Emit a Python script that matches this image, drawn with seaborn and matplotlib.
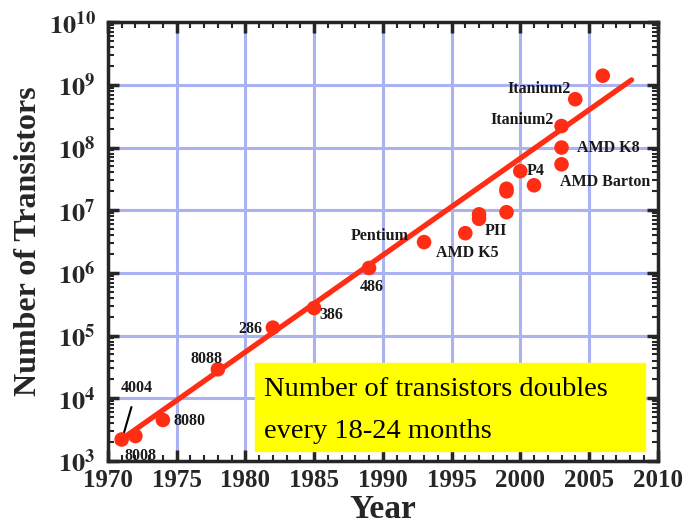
import numpy as np
import pandas as pd
import matplotlib
matplotlib.use("Agg")
import matplotlib.pyplot as plt
import matplotlib.ticker as mticker
import seaborn as sns

# Processor data
years = [1971, 1972, 1974, 1978, 1982, 1985, 1989, 1993,
         1996, 1997, 1997, 1999, 1999, 1999, 2000, 2001,
         2003, 2003, 2003, 2004, 2006]
transistors = [2.2e3, 2.5e3, 4.5e3, 2.9e4, 1.34e5, 2.75e5, 1.2e6, 3.1e6,
               4.3e6, 7.3e6, 8.6e6, 9.3e6, 2.0e7, 2.2e7, 4.2e7, 2.5e7,
               5.4e7, 1.0e8, 2.2e8, 5.9e8, 1.4e9]

# fitted trend line end points
trend_years = [1970.7, 2008.1]
trend_values = [2.0e3, 1.2e9]

# label text and where it sits (year, value)
labels = ["8008", "8080", "8088", "286", "386", "486", "Pentium", "AMD K5",
          "PII", "P4", "AMD Barton", "AMD K8", "Itanium2", "Itanium2"]
label_x = [1971.2, 1974.8, 1976.0, 1979.5, 1985.4, 1988.3, 1987.7, 1993.9,
           1997.4, 2000.5, 2002.9, 2004.1, 1997.8, 1999.1]
label_y = [1.2e3, 4.4e3, 4.3e4, 1.28e5, 2.15e5, 6.0e5, 3.9e6, 2.1e6,
           4.7e6, 4.3e7, 2.8e7, 1.0e8, 2.7e8, 8.5e8]

df = pd.DataFrame({"year": years, "n": transistors})
trend = pd.DataFrame({"year": trend_years, "n": trend_values})

sns.set_style("ticks")
plt.rcParams["font.family"] = ["Liberation Serif", "DejaVu Serif"]
plt.rcParams["mathtext.fontset"] = "stix"

red = "#ff2d14"
grid_c = "#aab2f2"
txt_c = "#1a1a1a"

fig = plt.figure(figsize=(6.83, 5.28), dpi=100)
ax = fig.add_axes([0.158, 0.127, 0.805, 0.831])

ax.set_yscale("log")
ax.set_xlim(1970, 2010)
ax.set_ylim(1e3, 1e10)

# grid
for x in range(1975, 2010, 5):
    ax.axvline(x, color=grid_c, lw=2.2, zorder=0)
for e in range(4, 10):
    ax.axhline(10 ** e, color=grid_c, lw=2.2, zorder=0)

sns.lineplot(data=trend, x="year", y="n", color=red, lw=3.8, ax=ax, zorder=3)
sns.scatterplot(data=df, x="year", y="n", color=red, s=110, edgecolor="none",
                ax=ax, zorder=4)

for t, lx, ly in zip(labels, label_x, label_y):
    ax.text(lx, ly, t, fontsize=11.5, fontweight="bold", color=txt_c,
            ha="left", va="center", zorder=5)

# 4004 with pointer line
ax.annotate("4004", xy=(1971.0, 2.1e3), xytext=(1970.9, 1.47e4),
            fontsize=11.5, fontweight="bold", color=txt_c, ha="left",
            va="center",
            arrowprops=dict(arrowstyle="-", color="black", lw=1.5,
                            shrinkA=6, shrinkB=0, relpos=(0.45, 0.0)))

# yellow note box
fig.patches.append(plt.Rectangle((255 / 683, 1 - 451 / 528), 390 / 683, 88 / 528,
                                 transform=fig.transFigure, color="#ffff00",
                                 zorder=6))
fig.text(264 / 683, 1 - 396 / 528, "Number of transistors doubles",
         fontsize=20.5, color="black", zorder=7, va="baseline")
fig.text(264 / 683, 1 - 438 / 528, "every 18-24 months",
         fontsize=20.5, color="black", zorder=7, va="baseline")

# ticks
ax.set_xticks(range(1970, 2011, 5))
ax.xaxis.set_minor_locator(mticker.MultipleLocator(1))
ax.set_yticks([10 ** e for e in range(3, 11)])
ax.yaxis.set_minor_locator(mticker.LogLocator(base=10, subs=np.arange(2, 10),
                                              numticks=20))
ax.yaxis.set_minor_formatter(mticker.NullFormatter())
ax.set_yticklabels([r"$\mathbf{10^{%d}}$" % e for e in range(3, 11)])
ax.tick_params(which="major", direction="in", length=8, width=2.5,
               top=True, right=True, labelsize=18, pad=5)
ax.tick_params(which="minor", direction="in", length=4, width=1.5,
               top=True, right=True)
ax.tick_params(axis="x", pad=6)
ax.tick_params(axis="y", labelsize=19, pad=9)
for lab in ax.get_xticklabels():
    lab.set_fontweight("bold")
for sp in ax.spines.values():
    sp.set_linewidth(2.5)
    sp.set_visible(True)

ax.set_xlabel("Year", fontsize=24, fontweight="bold", labelpad=1)
ax.set_ylabel("Number of Transistors", fontsize=23, fontweight="bold",
              labelpad=4)

fig.savefig("out.png", dpi=100)
